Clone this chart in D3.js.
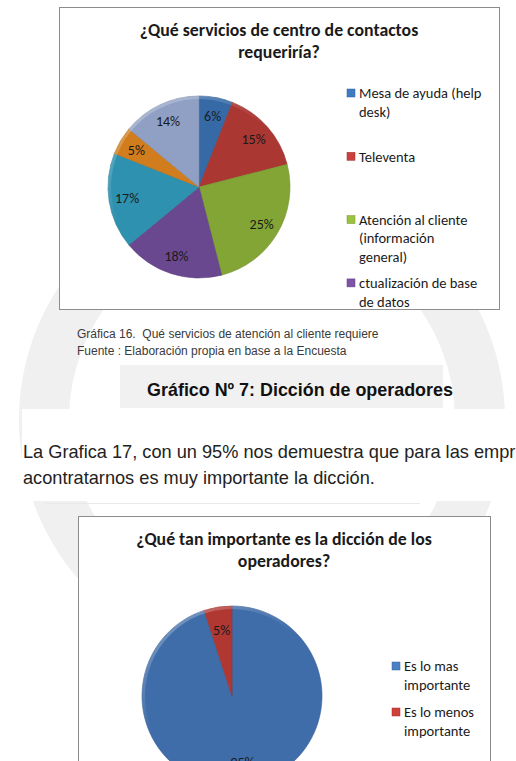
<!doctype html>
<html lang="es">
<head>
<meta charset="UTF-8">
<script src="https://d3js.org/d3.v7.min.js"></script>
<style>
body { margin: 0; background: #fff; }
svg { display: block; }
.chart-text { font-family: Carlito, Lato, "Open Sans", sans-serif; fill: #1a1a1a; }
.doc-text { font-family: "Liberation Sans", Arial, sans-serif; white-space: pre; }
</style>
<title></title>
</head>
<body>
<div id="main"></div>
<script>
'use strict';

// chart 1 : servicios de centro de contactos
var title1 = ["¿Qué servicios de centro de contactos", "requeriría?"];
var values1 = [6, 15, 25, 18, 17, 5, 14];
var colors1 = ["#3f7cc4", "#c9403c", "#9ac23e", "#7c54a8", "#36aacd", "#f59322", "#a8bce6"];
// only the first four legend entries fit inside the chart area
var legend1 = ["Mesa de ayuda (help\ndesk)", "Televenta", "Atención al cliente\n(información\ngeneral)", "ctualización de base\nde datos"];

// chart 2 : dicción de operadores
var title2 = ["¿Qué tan importante es la dicción de los", "operadores?"];
var values2 = [95, 5];
var colors2 = ["#4a80c6", "#d0403b"];
var legend2 = ["Es lo mas\nimportante", "Es lo menos\nimportante"];

var caption = ["Gráfica 16.  Qué servicios de atención al cliente requiere",
               "Fuente : Elaboración propia en base a la Encuesta"];
var heading = "Gráfico Nº 7: Dicción de operadores";
// first line runs off the page, only the visible part is kept
var paragraph = ["La Grafica 17, con un 95% nos demuestra que para las empr",
                 "acontratarnos es muy importante la dicción."];

var W = 516, H = 761;

var svg = d3.select("#main").append("svg")
  .attr("width", W)
  .attr("height", H);

var defs = svg.append("defs");

// faint watermark of the page
var wm = svg.append("g").attr("class", "watermark");
wm.append("circle")
  .attr("cx", 262).attr("cy", 420).attr("r", 218)
  .attr("fill", "none")
  .attr("stroke", "#f0f0f0")
  .attr("stroke-width", 50);
wm.append("rect")
  .attr("x", 120).attr("y", 365).attr("width", 323).attr("height", 43)
  .attr("fill", "#f1f1f1");
// paragraph block has a white background
wm.append("rect")
  .attr("x", 22).attr("y", 409).attr("width", W - 22).attr("height", 92)
  .attr("fill", "#fff");
wm.append("line")
  .attr("x1", 46).attr("x2", 420).attr("y1", 503.5).attr("y2", 503.5)
  .attr("stroke", "#e9e9e9");

function pieChart(opt) {
  var g = svg.append("g");

  g.append("rect")
    .attr("x", opt.box[0] + 0.5).attr("y", opt.box[1] + 0.5)
    .attr("width", opt.box[2]).attr("height", opt.box[3])
    .attr("fill", "#fff")
    .attr("stroke", "#8c8c8c")
    .attr("stroke-width", 1);

  g.selectAll(".title")
    .data(opt.title)
    .enter().append("text")
    .attr("class", "chart-text title")
    .attr("x", opt.box[0] + opt.box[2] / 2)
    .attr("y", function(d, i) { return opt.titleY + i * 22; })
    .attr("text-anchor", "middle")
    .attr("font-size", "17.8px")
    .attr("font-weight", "bold")
    .text(function(d) { return d; });

  var pie = d3.pie().sort(null).value(function(d) { return d; });
  var arcs = pie(opt.values);
  var arc = d3.arc().innerRadius(0).outerRadius(opt.r);
  var labelArc = d3.arc().innerRadius(opt.r * opt.lab).outerRadius(opt.r * opt.lab);

  // bevel-ish shading for each colour
  opt.colors.forEach(function(c, i) {
    var grad = defs.append("radialGradient")
      .attr("id", opt.id + "g" + i)
      .attr("gradientUnits", "userSpaceOnUse")
      .attr("cx", opt.cx).attr("cy", opt.cy).attr("r", opt.r);
    grad.append("stop").attr("offset", "0%").attr("stop-color", d3.color(c).brighter(0.15));
    grad.append("stop").attr("offset", "85%").attr("stop-color", c);
    grad.append("stop").attr("offset", "96%").attr("stop-color", d3.color(c).darker(0.25));
    grad.append("stop").attr("offset", "100%").attr("stop-color", d3.color(c).darker(0.45));
  });

  var pg = g.append("g").attr("transform", "translate(" + opt.cx + "," + opt.cy + ")");

  pg.selectAll(".slice")
    .data(arcs)
    .enter().append("path")
    .attr("class", "slice")
    .attr("d", arc)
    .attr("fill", function(d, i) { return "url(#" + opt.id + "g" + i + ")"; })
    .attr("stroke", function(d, i) { return d3.color(opt.colors[i]).darker(0.8); })
    .attr("stroke-width", 0.6);

  // soft highlight on top-left rim
  var hl = defs.append("linearGradient")
    .attr("id", opt.id + "hl")
    .attr("x1", "0").attr("y1", "0").attr("x2", "0.7").attr("y2", "1");
  hl.append("stop").attr("offset", "0%").attr("stop-color", "#fff").attr("stop-opacity", 0.35);
  hl.append("stop").attr("offset", "50%").attr("stop-color", "#fff").attr("stop-opacity", 0);
  pg.append("circle")
    .attr("r", opt.r - 1.5)
    .attr("fill", "none")
    .attr("stroke", "url(#" + opt.id + "hl)")
    .attr("stroke-width", 3);

  pg.selectAll(".lab")
    .data(arcs)
    .enter().append("text")
    .attr("class", "chart-text lab")
    .attr("transform", function(d) { return "translate(" + labelArc.centroid(d) + ")"; })
    .attr("text-anchor", "middle")
    .attr("dy", "0.36em")
    .attr("font-size", "14px")
    .text(function(d) { return d.value + "%"; });

  var lg = g.selectAll(".leg")
    .data(opt.legend)
    .enter().append("g")
    .attr("class", "leg")
    .attr("transform", function(d, i) { return "translate(" + opt.legX + "," + (opt.legY + i * opt.legStep) + ")"; });

  lg.append("rect")
    .attr("x", -12).attr("y", -4)
    .attr("width", 8).attr("height", 8)
    .attr("fill", function(d, i) { return opt.colors[i]; })
    .attr("stroke", function(d, i) { return d3.color(opt.colors[i]).darker(0.7); })
    .attr("stroke-width", 0.5);

  lg.append("text")
    .attr("class", "chart-text")
    .attr("font-size", "14.5px")
    .attr("fill", "#262626")
    .each(function(d) {
      var t = d3.select(this);
      d.split("\n").forEach(function(line, j) {
        t.append("tspan")
          .attr("x", 0)
          .attr("y", j * opt.legLine)
          .attr("dy", "0.36em")
          .text(line);
      });
    });
}

pieChart({
  id: "p1",
  box: [59, 7, 440, 302],
  title: title1, titleY: 36,
  values: values1, colors: colors1,
  cx: 199, cy: 187, r: 91, lab: 0.8,
  legend: legend1, legX: 359, legY: 93, legStep: 63.3, legLine: 18.5
});

// second chart runs off the bottom of the page
pieChart({
  id: "p2",
  box: [78, 516, 412, 300],
  title: title2, titleY: 545,
  values: values2, colors: colors2,
  cx: 232, cy: 696, r: 90, lab: 0.74,
  legend: legend2, legX: 404, legY: 666, legStep: 46, legLine: 19
});

// document text around the charts
svg.selectAll(".cap")
  .data(caption)
  .enter().append("text")
  .attr("class", "doc-text cap")
  .attr("x", 77)
  .attr("y", function(d, i) { return 338 + i * 17; })
  .attr("font-size", "12px")
  .attr("fill", "#3a3a3a")
  .text(function(d) { return d; });

svg.append("text")
  .attr("class", "doc-text")
  .attr("x", 300)
  .attr("y", 396)
  .attr("text-anchor", "middle")
  .attr("font-size", "17.9px")
  .attr("font-weight", "bold")
  .attr("fill", "#111")
  .text(heading);

svg.selectAll(".par")
  .data(paragraph)
  .enter().append("text")
  .attr("class", "doc-text par")
  .attr("x", 23)
  .attr("y", function(d, i) { return 458 + i * 26; })
  .attr("font-size", "18.2px")
  .attr("fill", "#222")
  .text(function(d) { return d; });
</script>
</body>
</html>
